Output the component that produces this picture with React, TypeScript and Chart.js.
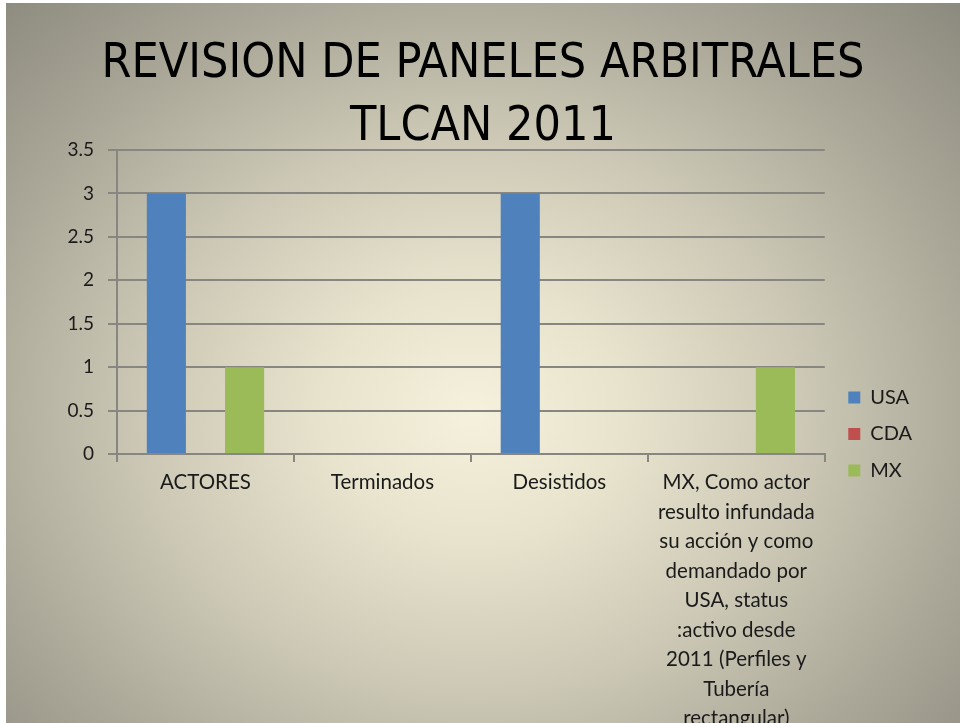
import React, { useEffect, useRef } from "react";
import { Chart, registerables } from "chart.js";

Chart.register(...registerables);

const titleLines = ["REVISION DE PANELES ARBITRALES", "TLCAN 2011"];
const categories: (string | string[])[] = [
  "ACTORES",
  "Terminados",
  "Desistidos",
  [
    "MX, Como actor",
    "resulto infundada",
    "su acción y como",
    "demandado por",
    "USA, status",
    ":activo desde",
    "2011 (Perfiles y",
    "Tubería",
    "rectangular)",
  ],
];
const seriesNames = ["USA", "CDA", "MX"];
const usaValues = [3, 0, 3, 0];
const cdaValues = [0, 0, 0, 0];
const mxValues = [1, 0, 0, 1];
const seriesColors = ["#4f81bd", "#c0504d", "#9bbb59"];
const yMin = 0;
const yMax = 3.5;
const yStep = 0.5;

const CANVAS_W = 954;
const CANVAS_H = 862;
const TEXT_FONT = "Lato, 'Open Sans', sans-serif";
const TITLE_FONT = "'Liberation Sans Narrow', 'DejaVu Sans Condensed', 'Open Sans', sans-serif";
const GRID = "#878680";

const legendShift = {
  id: "legendShift",
  afterLayout(chart: any) {
    const lg = chart.legend;
    if (lg) {
      lg.left += 7;
      lg.right += 7;
    }
  },
};

export default function App() {
  const ref = useRef<HTMLCanvasElement | null>(null);

  useEffect(() => {
    if (!ref.current) return;
    const values = [usaValues, cdaValues, mxValues];
    const chart = new Chart(ref.current, {
      type: "bar",
      data: {
        labels: categories,
        datasets: seriesNames.map((name, i) => ({
          label: name,
          data: values[i],
          backgroundColor: seriesColors[i],
          borderWidth: 0,
          categoryPercentage: 0.663,
          barPercentage: 1,
        })),
      },
      options: {
        animation: false,
        responsive: false,
        devicePixelRatio: 1,
        layout: { padding: { left: 45, right: 45, top: 0, bottom: 0 } },
        plugins: {
          title: {
            display: true,
            text: titleLines,
            color: "#000",
            font: { family: TITLE_FONT, size: 48, weight: "normal", lineHeight: 63 / 48 },
            padding: { top: 30, bottom: -9 },
          },
          legend: {
            display: true,
            position: "right",
            labels: {
              boxWidth: 12,
              boxHeight: 12,
              padding: 16.5,
              color: "#1a1a1a",
              font: { family: TEXT_FONT, size: 20 },
            },
          },
          tooltip: { enabled: false },
        },
        scales: {
          x: {
            type: "category",
            offset: true,
            grid: {
              display: true,
              drawOnChartArea: false,
              drawTicks: true,
              tickLength: 8,
              color: GRID,
              lineWidth: 2,
              offset: true,
            },
            border: { display: true, color: GRID, width: 2 },
            ticks: {
              autoSkip: false,
              maxRotation: 0,
              minRotation: 0,
              padding: 6,
              color: "#1a1a1a",
              font: { family: TEXT_FONT, size: 20.5, lineHeight: 29.5 / 20.5 },
            },
            afterFit(scale: any) {
              scale.height = 411;
            },
          },
          y: {
            min: yMin,
            max: yMax,
            grid: {
              color: GRID,
              lineWidth: 2,
              tickLength: 9,
              drawTicks: true,
            },
            border: { display: true, color: GRID, width: 2 },
            ticks: {
              stepSize: yStep,
              padding: 14,
              color: "#1a1a1a",
              font: { family: TEXT_FONT, size: 19 },
              callback: (v: any) => String(Number(v)),
            },
            afterFit(scale: any) {
              scale.width = 66;
            },
          },
        },
      },
      plugins: [legendShift],
    });
    return () => chart.destroy();
  }, []);

  return (
    <div
      style={{
        position: "absolute",
        left: 6,
        top: 3,
        width: CANVAS_W,
        height: 720,
        overflow: "hidden",
        background:
          "radial-gradient(ellipse farthest-corner at 49% 57%, #f6f1dc 0%, #e8e3cd 22%, #ccc8b5 48%, #aaa798 74%, #8c8a7e 100%)",
      }}
    >
      <canvas
        ref={ref}
        width={CANVAS_W}
        height={CANVAS_H}
        style={{ position: "absolute", left: 0, top: 0, width: CANVAS_W, height: CANVAS_H }}
      />
    </div>
  );
}
